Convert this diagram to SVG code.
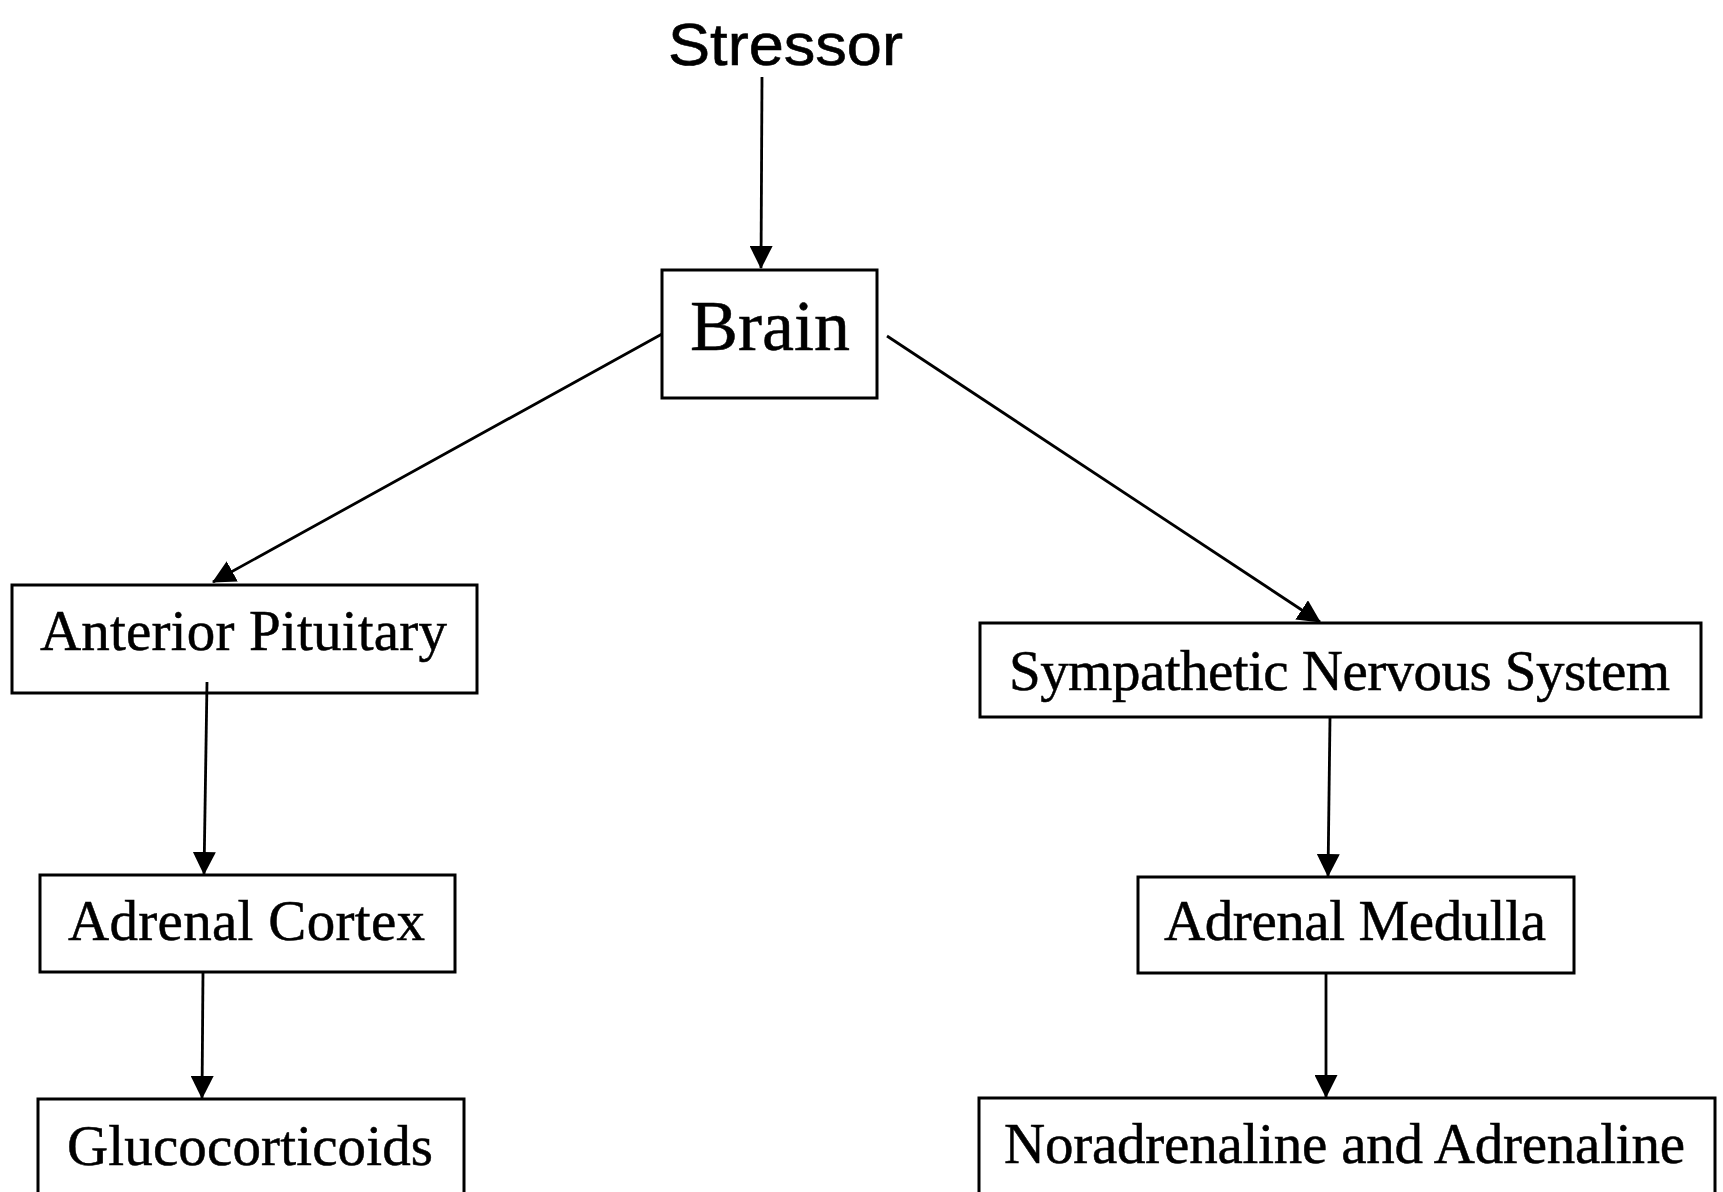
<svg xmlns="http://www.w3.org/2000/svg" width="1723" height="1192" viewBox="0 0 1723 1192">
  <style>
    .box { fill: #ffffff; stroke: #000000; stroke-width: 3; }
    .lbl { font-family: "Liberation Serif", "Times New Roman", serif; font-size: 57px; fill: #000000; stroke: #000000; stroke-width: 0.5; }
    .edge { fill: none; stroke: #000000; stroke-width: 2.8; marker-end: url(#arrow); }
  </style>
  <defs>
    <marker id="arrow" markerUnits="userSpaceOnUse" markerWidth="23" markerHeight="23" refX="22" refY="11.5" orient="auto">
      <path d="M0,0 L23,11.5 L0,23 z" fill="#000000"/>
    </marker>
  </defs>
  <rect width="1723" height="1192" fill="#ffffff"/>

  <g id="stressor">
    <text x="668" y="65" font-family="'Liberation Sans', Arial, sans-serif" font-size="59" stroke="#000000" stroke-width="0.6" textLength="235" lengthAdjust="spacingAndGlyphs">Stressor</text>
  </g>

  <g id="brain">
    <rect class="box" x="662" y="270" width="215" height="128"/>
    <text class="lbl" x="690" y="350" font-size="72" style="font-size:72px">Brain</text>
  </g>

  <g id="anterior-pituitary">
    <rect class="box" x="12" y="585" width="465" height="108"/>
    <text class="lbl" x="40" y="650" textLength="407">Anterior Pituitary</text>
  </g>

  <g id="sympathetic-nervous-system">
    <rect class="box" x="980" y="623" width="721" height="94"/>
    <text class="lbl" x="1009" y="690" textLength="661">Sympathetic Nervous System</text>
  </g>

  <g id="adrenal-cortex">
    <rect class="box" x="40" y="875" width="415" height="97"/>
    <text class="lbl" x="68" y="940" textLength="357">Adrenal Cortex</text>
  </g>

  <g id="adrenal-medulla">
    <rect class="box" x="1138" y="877" width="436" height="96"/>
    <text class="lbl" x="1164" y="940" textLength="382">Adrenal Medulla</text>
  </g>

  <g id="glucocorticoids">
    <rect class="box" x="38" y="1099" width="426" height="110"/>
    <text class="lbl" x="67" y="1165" textLength="366">Glucocorticoids</text>
  </g>

  <g id="noradrenaline-adrenaline">
    <rect class="box" x="979" y="1098" width="736" height="110"/>
    <text class="lbl" x="1004" y="1163" textLength="681">Noradrenaline and Adrenaline</text>
  </g>

  <!-- arrows drawn last so the stub inside Anterior Pituitary stays visible -->
  <g id="connectors">
    <line class="edge" x1="762" y1="77" x2="761" y2="268"/>
    <line class="edge" x1="662" y1="334" x2="213" y2="582"/>
    <line class="edge" x1="887" y1="336" x2="1320" y2="622"/>
    <line class="edge" x1="207" y1="682" x2="204" y2="874"/>
    <line class="edge" x1="203" y1="972" x2="202" y2="1098"/>
    <line class="edge" x1="1330" y1="717" x2="1328" y2="876"/>
    <line class="edge" x1="1326" y1="973" x2="1326" y2="1097"/>
  </g>
</svg>
